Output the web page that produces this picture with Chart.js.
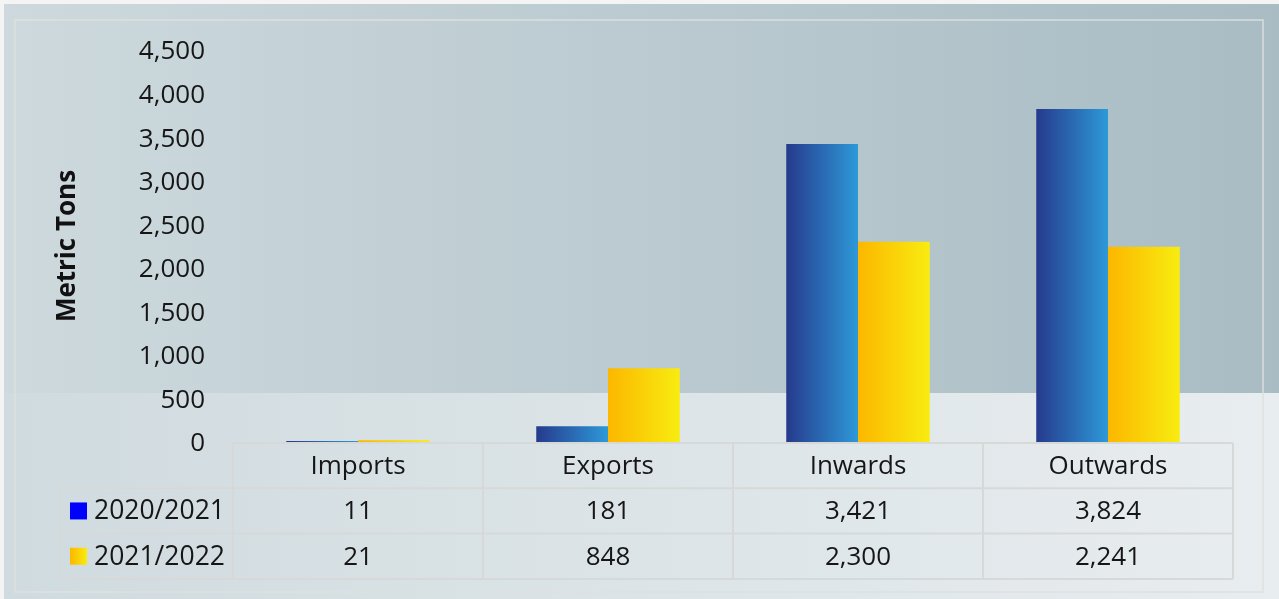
<!DOCTYPE html>
<html>
<head>
<meta charset="utf-8">
<script src="https://cdn.jsdelivr.net/npm/chart.js@4.4.0/dist/chart.umd.min.js"></script>
<style>
  html, body { margin: 0; padding: 0; background: #f4f4f4; }
  #wrap { width: 1279px; height: 599px; }
</style>
</head>
<body>
<div id="wrap"><canvas id="myChart" width="1279" height="599"></canvas></div>
<script>
const categories = ["Imports", "Exports", "Inwards", "Outwards"];
const seriesNames = ["2020/2021", "2021/2022"];
const values2021 = [11, 181, 3421, 3824];
const values2022 = [21, 848, 2300, 2241];
const yTicks = [0, 500, 1000, 1500, 2000, 2500, 3000, 3500, 4000, 4500];

const gradStops = [
  ["#263a8c", "#2d99d8"],
  ["#fcb700", "#f8ec10"],
];
const catPct = 0.574;

// gradient for each bar, placed from the x scale
function barColor(ds) {
  return (ctx) => {
    const chart = ctx.chart;
    const area = chart.chartArea;
    const xs = chart.scales.x;
    if (!area || !xs) return gradStops[ds][0];
    const colW = (area.right - area.left) / categories.length;
    const barW = (colW * catPct) / 2;
    const cx = xs.getPixelForValue(ctx.dataIndex);
    const x0 = ds === 0 ? cx - barW : cx;
    const g = chart.ctx.createLinearGradient(x0, 0, x0 + barW, 0);
    g.addColorStop(0, gradStops[ds][0]);
    g.addColorStop(1, gradStops[ds][1]);
    return g;
  };
}

const bgPlugin = {
  id: "bg",
  beforeDraw(chart) {
    const c = chart.ctx;
    c.save();
    c.fillStyle = "#f4f4f4";
    c.fillRect(0, 0, chart.width, chart.height);
    let g = c.createLinearGradient(4, 0, chart.width, 0);
    g.addColorStop(0, "#cdd9dd");
    g.addColorStop(1, "#a9bcc4");
    c.fillStyle = g;
    c.fillRect(4, 4, chart.width - 4, 389);
    g = c.createLinearGradient(4, 0, chart.width, 0);
    g.addColorStop(0, "#d0dbdf");
    g.addColorStop(1, "#e8edef");
    c.fillStyle = g;
    c.fillRect(4, 393, chart.width - 4, chart.height - 393);
    c.strokeStyle = "rgba(222,224,222,0.7)";
    c.lineWidth = 2;
    c.strokeRect(15, 20, 1248, 572);
    c.restore();
  },
};

const tablePlugin = {
  id: "dataTable",
  afterDraw(chart) {
    const c = chart.ctx;
    const xs = chart.scales.x;
    const area = chart.chartArea;
    const colW = (area.right - area.left) / categories.length;
    const top = area.bottom + 1;
    const rowH = 45.3;
    const legendLeft = 60;
    c.save();
    c.strokeStyle = "#d7d9d9";
    c.lineWidth = 2;
    c.beginPath();
    c.moveTo(area.left, top); c.lineTo(area.right, top);
    for (let r = 1; r <= 3; r++) {
      c.moveTo(legendLeft, top + rowH * r); c.lineTo(area.right, top + rowH * r);
    }
    c.moveTo(legendLeft, top + rowH); c.lineTo(legendLeft, top + rowH * 3);
    for (let i = 0; i <= categories.length; i++) {
      const x = area.left + colW * i;
      c.moveTo(x, top); c.lineTo(x, top + rowH * 3);
    }
    c.stroke();

    c.font = "26px 'Open Sans'";
    c.fillStyle = "#161616";
    c.textAlign = "center";
    c.textBaseline = "middle";
    const rows = [values2021, values2022];
    categories.forEach((cat, i) => {
      const cx = xs.getPixelForValue(i);
      c.fillText(cat, cx, top + rowH * 0.5 + 1);
      rows.forEach((vals, r) => {
        c.fillText(vals[i].toLocaleString("en-US"), cx, top + rowH * (r + 1.5) + 1);
      });
    });
    // legend keys
    c.textAlign = "left";
    seriesNames.forEach((name, r) => {
      const cy = top + rowH * (r + 1.5);
      if (r === 0) {
        c.fillStyle = "#0000ff";
      } else {
        const g = c.createLinearGradient(70, 0, 87, 0);
        g.addColorStop(0, gradStops[1][0]);
        g.addColorStop(1, gradStops[1][1]);
        c.fillStyle = g;
      }
      c.fillRect(70, cy - 8.5, 17, 17);
      c.fillStyle = "#161616";
      c.font = "26.5px 'Open Sans'";
      c.fillText(name, 94, cy + 1);
    });
    c.restore();
  },
};

Chart.defaults.font.family = "'Open Sans', 'Noto Sans', sans-serif";

const ctx = document.getElementById("myChart").getContext("2d");
const myChart = new Chart(ctx, {
  type: "bar",
  data: {
    labels: categories,
    datasets: [
      { label: seriesNames[0], data: values2021, backgroundColor: barColor(0), borderWidth: 0 },
      { label: seriesNames[1], data: values2022, backgroundColor: barColor(1), borderWidth: 0 },
    ],
  },
  options: {
    responsive: false,
    animation: false,
    events: [],
    categoryPercentage: catPct,
    barPercentage: 1.0,
    layout: { padding: { left: 48, right: 46, top: 50, bottom: 157 } },
    plugins: {
      legend: { display: false },
      tooltip: { enabled: false },
    },
    scales: {
      x: { display: false },
      y: {
        min: 0,
        max: 4500,
        afterBuildTicks: (scale) => { scale.ticks = yTicks.map((v) => ({ value: v })); },
        afterFit: (scale) => { scale.width = 185; },
        grid: { display: false, drawTicks: false },
        border: { display: false },
        ticks: {
          padding: 28,
          labelOffset: 2,
          color: "#161616",
          font: { size: 26 },
          callback: (v) => v.toLocaleString("en-US"),
        },
        title: {
          display: true,
          text: "Metric Tons",
          color: "#111",
          font: { size: 26, weight: "bold" },
          padding: { top: 4, bottom: 4 },
        },
      },
    },
  },
  plugins: [bgPlugin, tablePlugin],
});
</script>
</body>
</html>
